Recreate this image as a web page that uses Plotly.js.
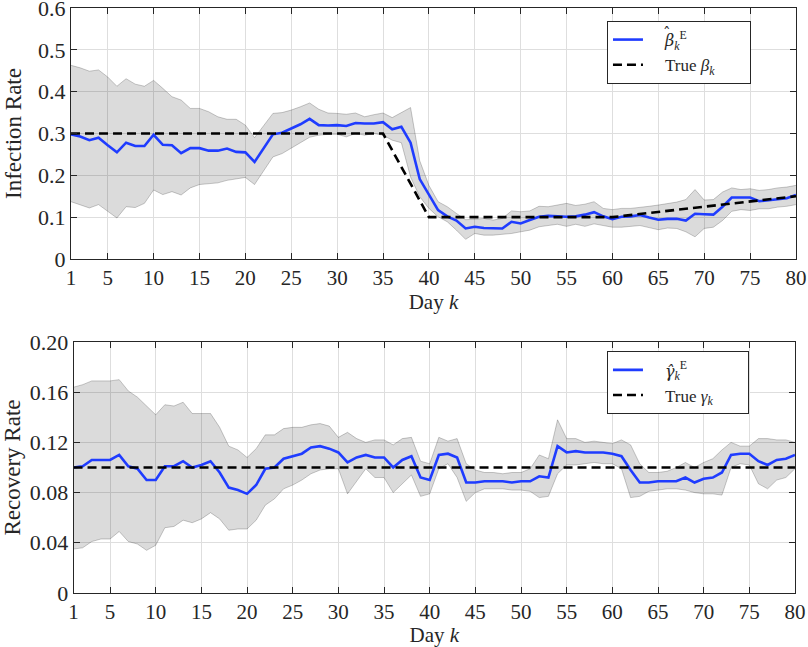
<!DOCTYPE html>
<html>
<head>
<meta charset="utf-8">
<script src="https://cdn.plot.ly/plotly-3.0.1.min.js"></script>
<style>html,body{margin:0;padding:0;background:#fff;}#chart{width:808px;height:647px;}</style>
</head>
<body>
<div id="chart"></div>
<script>
const days = [1,2,3,4,5,6,7,8,9,10,11,12,13,14,15,16,17,18,19,20,21,22,23,24,25,26,27,28,29,30,31,32,33,34,35,36,37,38,39,40,41,42,43,44,45,46,47,48,49,50,51,52,53,54,55,56,57,58,59,60,61,62,63,64,65,66,67,68,69,70,71,72,73,74,75,76,77,78,79,80];
const xTickVals = [1,5,10,15,20,25,30,35,40,45,50,55,60,65,70,75,80];
const xTickText = ['1','5','10','15','20','25','30','35','40','45','50','55','60','65','70','75','80'];
const betaTickVals = [0,0.1,0.2,0.3,0.4,0.5,0.6];
const betaTickText = ['0','0.1','0.2','0.3','0.4','0.5','0.6'];
const gammaTickVals = [0,0.04,0.08,0.12,0.16,0.20];
const gammaTickText = ['0','0.04','0.08','0.12','0.16','0.20'];

const betaEst = [0.298,0.293,0.284,0.290,0.272,0.255,0.278,0.270,0.270,0.297,
  0.273,0.272,0.253,0.265,0.265,0.259,0.259,0.264,0.256,0.255,
  0.232,0.265,0.298,0.302,0.312,0.322,0.335,0.320,0.319,0.320,
  0.318,0.325,0.324,0.324,0.327,0.310,0.316,0.278,0.191,0.153,
  0.117,0.102,0.092,0.073,0.077,0.074,0.073,0.073,0.089,0.085,
  0.093,0.101,0.103,0.102,0.101,0.102,0.106,0.112,0.102,0.095,
  0.101,0.102,0.105,0.099,0.094,0.096,0.096,0.092,0.108,0.107,
  0.106,0.125,0.147,0.147,0.147,0.138,0.141,0.143,0.145,0.153];
const betaUpper = [0.463,0.457,0.449,0.452,0.435,0.413,0.431,0.418,0.413,0.427,
  0.408,0.388,0.380,0.360,0.360,0.352,0.340,0.334,0.334,0.320,
  0.290,0.320,0.348,0.350,0.356,0.364,0.373,0.358,0.349,0.348,
  0.346,0.349,0.340,0.345,0.349,0.338,0.350,0.362,0.235,0.176,
  0.137,0.125,0.109,0.094,0.095,0.097,0.093,0.097,0.115,0.113,
  0.115,0.126,0.125,0.129,0.133,0.128,0.131,0.137,0.121,0.118,
  0.121,0.121,0.123,0.126,0.129,0.132,0.136,0.142,0.166,0.141,
  0.142,0.160,0.170,0.166,0.168,0.164,0.166,0.170,0.172,0.176];
const betaLower = [0.137,0.129,0.122,0.130,0.113,0.098,0.125,0.123,0.133,0.165,
  0.154,0.161,0.153,0.170,0.178,0.180,0.182,0.188,0.192,0.195,
  0.178,0.210,0.244,0.252,0.264,0.278,0.291,0.296,0.298,0.298,
  0.292,0.300,0.296,0.300,0.296,0.284,0.278,0.196,0.149,0.121,
  0.101,0.089,0.069,0.047,0.061,0.057,0.057,0.059,0.061,0.065,
  0.069,0.077,0.080,0.083,0.078,0.083,0.078,0.084,0.080,0.076,
  0.076,0.078,0.080,0.075,0.070,0.074,0.073,0.065,0.053,0.073,
  0.076,0.092,0.114,0.118,0.116,0.120,0.120,0.124,0.126,0.130];
const betaTrue = [0.3,0.3,0.3,0.3,0.3,0.3,0.3,0.3,0.3,0.3,
  0.3,0.3,0.3,0.3,0.3,0.3,0.3,0.3,0.3,0.3,
  0.3,0.3,0.3,0.3,0.3,0.3,0.3,0.3,0.3,0.3,
  0.3,0.3,0.3,0.3,0.3,0.26,0.22,0.18,0.14,0.1,
  0.1,0.1,0.1,0.1,0.1,0.1,0.1,0.1,0.1,0.1,
  0.1,0.1,0.1,0.1,0.1,0.1,0.1,0.1,0.1,0.1,
  0.1025,0.105,0.1075,0.11,0.1125,0.115,0.1175,0.12,0.1225,0.125,
  0.1275,0.13,0.1325,0.135,0.1375,0.14,0.1425,0.145,0.1475,0.15];

const gammaEst = [0.100,0.101,0.106,0.106,0.106,0.110,0.101,0.099,0.090,0.090,
  0.101,0.101,0.105,0.100,0.102,0.105,0.096,0.084,0.082,0.079,
  0.086,0.099,0.100,0.107,0.109,0.111,0.116,0.117,0.115,0.112,
  0.104,0.108,0.110,0.108,0.108,0.100,0.106,0.109,0.092,0.090,
  0.110,0.111,0.108,0.088,0.088,0.089,0.089,0.089,0.088,0.089,
  0.089,0.093,0.092,0.117,0.112,0.113,0.112,0.112,0.112,0.111,
  0.109,0.098,0.088,0.088,0.089,0.089,0.089,0.092,0.088,0.091,
  0.092,0.096,0.110,0.111,0.111,0.105,0.102,0.106,0.107,0.110];
const gammaUpper = [0.164,0.166,0.169,0.169,0.169,0.170,0.161,0.156,0.149,0.142,
  0.150,0.149,0.152,0.143,0.143,0.143,0.132,0.117,0.114,0.108,
  0.115,0.126,0.126,0.131,0.132,0.132,0.134,0.135,0.133,0.124,
  0.128,0.123,0.120,0.122,0.122,0.118,0.123,0.124,0.105,0.103,
  0.124,0.121,0.123,0.103,0.098,0.096,0.096,0.095,0.096,0.096,
  0.099,0.110,0.107,0.138,0.123,0.123,0.120,0.121,0.120,0.119,
  0.122,0.118,0.103,0.096,0.096,0.097,0.100,0.104,0.100,0.104,
  0.107,0.114,0.120,0.117,0.117,0.123,0.123,0.122,0.122,0.120];
const gammaLower = [0.035,0.036,0.041,0.043,0.043,0.049,0.041,0.039,0.034,0.038,
  0.052,0.053,0.058,0.056,0.059,0.064,0.059,0.050,0.051,0.051,
  0.058,0.070,0.075,0.083,0.086,0.090,0.095,0.098,0.099,0.099,
  0.079,0.089,0.099,0.092,0.092,0.080,0.087,0.094,0.077,0.079,
  0.099,0.103,0.092,0.073,0.080,0.083,0.083,0.083,0.082,0.082,
  0.081,0.076,0.077,0.095,0.102,0.102,0.103,0.104,0.103,0.103,
  0.099,0.076,0.077,0.081,0.082,0.083,0.083,0.082,0.080,0.079,
  0.079,0.078,0.100,0.103,0.102,0.087,0.083,0.090,0.092,0.099];
const gammaTrue = [0.1,0.1,0.1,0.1,0.1,0.1,0.1,0.1,0.1,0.1,
  0.1,0.1,0.1,0.1,0.1,0.1,0.1,0.1,0.1,0.1,
  0.1,0.1,0.1,0.1,0.1,0.1,0.1,0.1,0.1,0.1,
  0.1,0.1,0.1,0.1,0.1,0.1,0.1,0.1,0.1,0.1,
  0.1,0.1,0.1,0.1,0.1,0.1,0.1,0.1,0.1,0.1,
  0.1,0.1,0.1,0.1,0.1,0.1,0.1,0.1,0.1,0.1,
  0.1,0.1,0.1,0.1,0.1,0.1,0.1,0.1,0.1,0.1,
  0.1,0.1,0.1,0.1,0.1,0.1,0.1,0.1,0.1,0.1];

const FONT = 'Liberation Serif, Times New Roman, serif';
const HATFONT = 'DejaVu Serif';
const AX = '#262626';
const BLUE = '#1f3cff';
const BAND = 'rgba(0,0,0,0.14)';
const EDGE = 'rgba(0,0,0,0.3)';
const PADL = '\u00A0\u00A0\u00A0\u00A0';
const PADR = '\u00A0\u00A0\u00A0\u00A0\u00A0\u00A0\u00A0';

function bandTraces(lo, up, xa, ya) {
  return [
    {x: days, y: lo, xaxis: xa, yaxis: ya, mode: 'lines', line: {color: EDGE, width: 0.7}, showlegend: false, hoverinfo: 'skip'},
    {x: days, y: up, xaxis: xa, yaxis: ya, mode: 'lines', line: {color: EDGE, width: 0.7}, fill: 'tonexty', fillcolor: BAND, showlegend: false, hoverinfo: 'skip'}
  ];
}

const estBetaName = PADL + '<span style="font-family:' + HATFONT + ';font-size:16px;font-style:italic">β</span><sub><i>k</i></sub><sup>E</sup>';
const trueBetaName = PADL + 'True <i>β</i><sub><i>k</i></sub>' + PADR;
const estGammaName = PADL + '<span style="font-family:' + HATFONT + ';font-size:16px;font-style:italic">γ\u0302</span><sub><i>k</i></sub><sup>E</sup>';
const trueGammaName = PADL + 'True <i>γ</i><sub><i>k</i></sub>' + PADR;

const traces = [
  ...bandTraces(betaLower, betaUpper, 'x', 'y'),
  {x: days, y: betaEst, xaxis: 'x', yaxis: 'y', mode: 'lines', line: {color: BLUE, width: 2.6}, name: estBetaName, legend: 'legend'},
  {x: days, y: betaTrue, xaxis: 'x', yaxis: 'y', mode: 'lines', line: {color: '#000', width: 2.6, dash: '9px,5px'}, name: trueBetaName, legend: 'legend'},
  ...bandTraces(gammaLower, gammaUpper, 'x2', 'y2'),
  {x: days, y: gammaEst, xaxis: 'x2', yaxis: 'y2', mode: 'lines', line: {color: BLUE, width: 2.6}, name: estGammaName, legend: 'legend2'},
  {x: days, y: gammaTrue, xaxis: 'x2', yaxis: 'y2', mode: 'lines', line: {color: '#000', width: 2.6, dash: '9px,5px'}, name: trueGammaName, legend: 'legend2'}
];

function xAxis(domain, anchor) {
  return {
    domain: domain, anchor: anchor, range: [1, 80], tickmode: 'array', tickvals: xTickVals, ticktext: xTickText,
    ticks: 'inside', ticklen: 6, tickcolor: AX, showline: true, linecolor: AX, linewidth: 1, mirror: 'ticks',
    showgrid: true, gridcolor: '#dedede', gridwidth: 1, zeroline: false, automargin: false, ticklabeloverflow: 'allow',
    tickfont: {family: FONT, size: 21, color: AX},
    title: {text: 'Day <i>k</i>', font: {family: FONT, size: 21, color: AX}, standoff: 5}
  };
}
function yAxis(domain, anchor, range, tv, tt, title) {
  return {
    domain: domain, anchor: anchor, range: range, tickmode: 'array', tickvals: tv, ticktext: tt,
    ticks: 'inside', ticklen: 6, tickcolor: AX, showline: true, linecolor: AX, linewidth: 1, mirror: 'ticks',
    showgrid: true, gridcolor: '#dedede', gridwidth: 1, zeroline: false, automargin: false, ticklabeloverflow: 'allow',
    tickfont: {family: FONT, size: 22, color: AX},
    title: {text: title, font: {family: FONT, size: 23, color: AX}, standoff: 10}
  };
}

const legendStyle = {
  bgcolor: '#ffffff', bordercolor: AX, borderwidth: 1, font: {family: FONT, size: 17, color: AX},
  xanchor: 'left', yanchor: 'top', tracegroupgap: 0, traceorder: 'normal'
};

const layout = {
  width: 808, height: 647,
  margin: {l: 0, r: 0, t: 0, b: 0},
  paper_bgcolor: '#fff', plot_bgcolor: '#fff',
  showlegend: true,
  xaxis: xAxis([0.0879, 0.9851], 'y'),
  yaxis: yAxis([0.5997, 0.9876], 'x', [0, 0.6], betaTickVals, betaTickText, 'Infection Rate'),
  xaxis2: xAxis([0.091, 0.9839], 'y2'),
  yaxis2: yAxis([0.0835, 0.4714], 'x2', [0, 0.2], gammaTickVals, gammaTickText, 'Recovery Rate'),
  legend: Object.assign({x: 0.7512, y: 0.9675}, legendStyle),
  legend2: Object.assign({x: 0.7512, y: 0.457}, legendStyle),
  annotations: [
    // hat accent over the legend's beta (drawn separately: the font does not place U+0302 over β)
    {text: '\u02C6', xref: 'paper', yref: 'paper', x: 667 / 808, y: 1 - 33 / 647, xanchor: 'center', yanchor: 'middle',
     showarrow: false, font: {family: HATFONT, size: 15, color: AX}}
  ]
};

Plotly.newPlot('chart', traces, layout, {staticPlot: true, displayModeBar: false});
</script>
</body>
</html>
